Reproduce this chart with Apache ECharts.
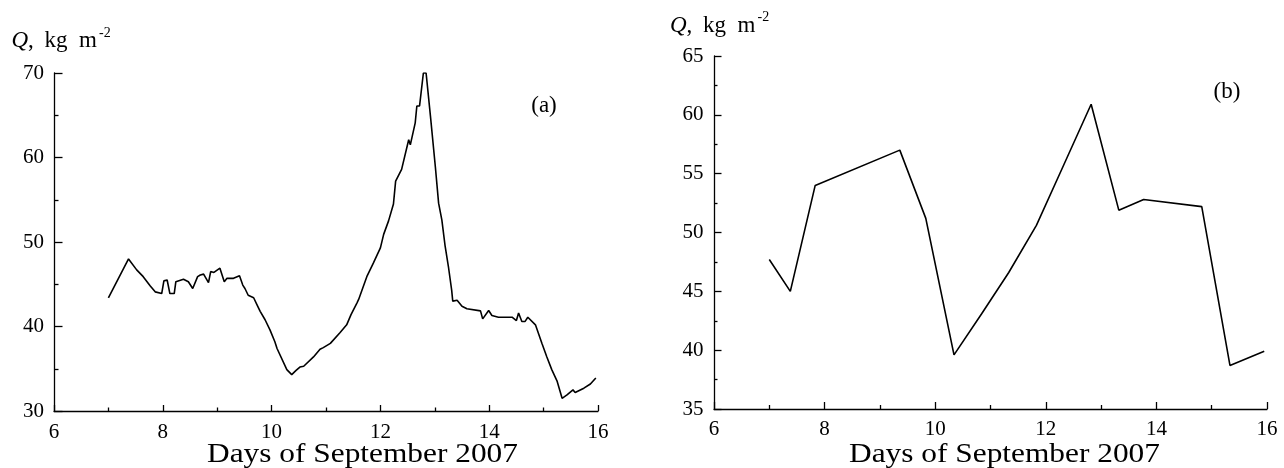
<!DOCTYPE html>
<html>
<head>
<meta charset="utf-8">
<script src="https://cdn.jsdelivr.net/npm/echarts@6/dist/echarts.min.js"></script>
<style>
  html, body { margin: 0; padding: 0; background: #fff; }
  #chart { width: 1284px; height: 468px; }
</style>
</head>
<body>
<div id="chart"></div>
<script>
// Panel (a): continuous record of Q over 7–16 September 2007
const daysA = [
  7.00, 7.37, 7.52, 7.64, 7.77, 7.86, 7.98, 8.02, 8.08, 8.13, 8.21, 8.24, 8.38, 8.47,
  8.55, 8.64, 8.69, 8.75, 8.84, 8.88, 8.94, 9.05, 9.13, 9.18, 9.30, 9.41, 9.47, 9.51,
  9.57, 9.67, 9.73, 9.79, 9.88, 9.97, 10.06, 10.10, 10.28, 10.37, 10.45, 10.52, 10.59,
  10.77, 10.89, 10.95, 11.08, 11.26, 11.38, 11.46, 11.57, 11.60, 11.75, 11.87, 12.00,
  12.06, 12.15, 12.24, 12.28, 12.39, 12.52, 12.55, 12.64, 12.67, 12.72, 12.79, 12.84,
  12.92, 13.01, 13.07, 13.13, 13.19, 13.25, 13.31, 13.33, 13.41, 13.50, 13.59, 13.84,
  13.88, 13.99, 14.05, 14.17, 14.42, 14.50, 14.54, 14.60, 14.66, 14.71, 14.85, 14.97,
  15.06, 15.15, 15.25, 15.34, 15.43, 15.54, 15.58, 15.74, 15.86, 15.96
];
const qA = [
  43.4, 48.0, 46.7, 45.9, 44.8, 44.1, 43.9, 45.4, 45.5, 43.9, 43.9, 45.3, 45.6, 45.3,
  44.5, 45.9, 46.1, 46.2, 45.2, 46.5, 46.4, 46.9, 45.3, 45.7, 45.7, 46.0, 44.9, 44.5,
  43.7, 43.4, 42.6, 41.8, 40.8, 39.6, 38.2, 37.4, 34.9, 34.3, 34.8, 35.2, 35.3,
  36.4, 37.3, 37.5, 38.0, 39.3, 40.2, 41.4, 42.8, 43.2, 45.9, 47.5, 49.3,
  50.9, 52.5, 54.5, 57.2, 58.6, 62.1, 61.5, 64.1, 66.1, 66.1, 70.0, 70.0,
  64.9, 58.9, 54.6, 52.6, 49.5, 47.1, 44.3, 43.0, 43.1, 42.4, 42.1, 41.85,
  40.9, 41.9, 41.3, 41.1, 41.1, 40.7, 41.6, 40.6, 40.6, 41.1, 40.2, 38.0,
  36.4, 34.9, 33.5, 31.5, 31.9, 32.5, 32.2, 32.7, 33.2, 33.9
];

// Panel (b): sparse estimates of Q over the same period
const daysB = [7.00, 7.38, 7.83, 9.36, 9.83, 10.34, 10.84, 11.33, 11.83, 12.33, 12.82, 13.32, 13.77, 14.82, 15.33, 15.95];
const qB    = [47.7, 45.0, 54.0, 57.0, 51.2, 39.6, 43.1, 46.6, 50.6, 55.8, 60.9, 51.9, 52.8, 52.2, 38.7, 39.9];

const xTitle = 'Days of September 2007';
const panelLabels = ['(a)', '(b)'];

const SERIF = '"Liberation Serif", "DejaVu Serif", serif';
const INK = '#000';

function valueAxisX(gridIndex, majorLen, minorLen, margin) {
  return {
    type: 'value', gridIndex, min: 6, max: 16, interval: 2,
    axisLine: { show: true, lineStyle: { color: INK, width: 1.3 } },
    axisTick: { show: true, inside: true, length: majorLen, lineStyle: { color: INK, width: 1.3 } },
    minorTick: { show: true, splitNumber: 2, length: minorLen, lineStyle: { color: INK, width: 1.3 } },
    axisLabel: { color: INK, fontFamily: SERIF, fontSize: 21, margin },
    splitLine: { show: false }
  };
}
function valueAxisY(gridIndex, min, max, interval, majorLen, minorLen, margin) {
  return {
    type: 'value', gridIndex, min, max, interval,
    axisLine: { show: true, lineStyle: { color: INK, width: 1.3 } },
    axisTick: { show: true, inside: true, length: majorLen, lineStyle: { color: INK, width: 1.3 } },
    minorTick: { show: true, splitNumber: 2, length: minorLen, lineStyle: { color: INK, width: 1.3 } },
    axisLabel: { color: INK, fontFamily: SERIF, fontSize: 21, margin },
    splitLine: { show: false }
  };
}

function toPairs(xs, ys) { return xs.map((x, i) => [x, ys[i]]); }

// Y-axis caption "Q, kg m^-2" assembled from pieces so the superscript sits right
function yCaption(x0, baseline) {
  const fs = 23;
  const mid = baseline - 0.3375 * fs;
  const base = { fontFamily: SERIF, fontSize: fs, fill: INK, verticalAlign: 'middle', align: 'left' };
  return [
    { type: 'text', x: x0, y: mid, style: Object.assign({}, base, { text: 'Q', fontStyle: 'italic' }) },
    { type: 'text', x: x0 + 16.5, y: mid, style: Object.assign({}, base, { text: ',' }) },
    { type: 'text', x: x0 + 33, y: mid, style: Object.assign({}, base, { text: 'kg' }) },
    { type: 'text', x: x0 + 67.5, y: mid, style: Object.assign({}, base, { text: 'm' }) },
    { type: 'text', x: x0 + 87.5, y: baseline - 16, style: Object.assign({}, base, { text: '-2', fontSize: 14 }) }
  ];
}

function xCaption(cx, baseline) {
  return {
    type: 'text', x: cx, y: baseline - 0.3375 * 28, scaleX: 1.12,
    style: { text: xTitle, fontFamily: SERIF, fontSize: 28, fill: INK, align: 'center', verticalAlign: 'middle' }
  };
}

const chart = echarts.init(document.getElementById('chart'), null, { renderer: 'canvas' });

chart.setOption({
  animation: false,
  backgroundColor: '#fff',
  grid: [
    { left: 54, top: 73, width: 544, height: 338 },
    { left: 714, top: 56, width: 553, height: 353 }
  ],
  xAxis: [
    valueAxisX(0, 6, 3.5, 11),
    valueAxisX(1, 7, 4, 9.5)
  ],
  yAxis: [
    valueAxisY(0, 30, 70, 10, 8.5, 4.5, 10),
    valueAxisY(1, 35, 65, 5, 7.5, 3.5, 10.5)
  ],
  series: [
    {
      type: 'line', xAxisIndex: 0, yAxisIndex: 0, data: toPairs(daysA, qA),
      showSymbol: false, symbol: 'none', lineStyle: { color: INK, width: 1.6 }, silent: true
    },
    {
      type: 'line', xAxisIndex: 1, yAxisIndex: 1, data: toPairs(daysB, qB),
      showSymbol: false, symbol: 'none', lineStyle: { color: INK, width: 1.6 }, silent: true
    }
  ],
  graphic: [
    ...yCaption(11.5, 49),
    ...yCaption(670, 33.5),
    xCaption(362.5, 464),
    xCaption(1004.5, 464),
    { type: 'text', x: 544, y: 106, style: { text: panelLabels[0], fontFamily: SERIF, fontSize: 23, fill: INK, align: 'center', verticalAlign: 'middle' } },
    { type: 'text', x: 1227, y: 92, style: { text: panelLabels[1], fontFamily: SERIF, fontSize: 23, fill: INK, align: 'center', verticalAlign: 'middle' } }
  ]
});
</script>
</body>
</html>
